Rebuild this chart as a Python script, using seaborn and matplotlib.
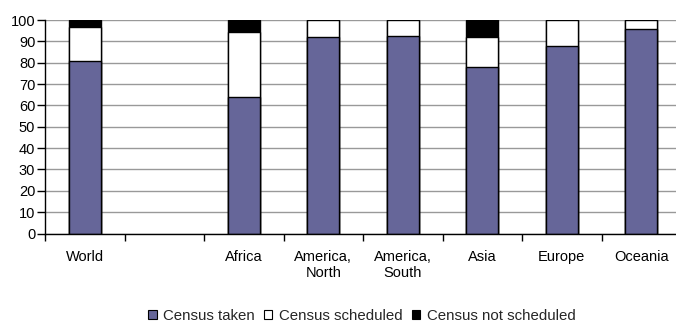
import numpy as np
import pandas as pd
import matplotlib
matplotlib.use("Agg")
import matplotlib.pyplot as plt
from matplotlib.patches import Patch
import seaborn as sns

# Share of countries by census status (percent), per region
regions = ["World", "Africa", "America,\nNorth", "America,\nSouth", "Asia", "Europe", "Oceania"]
taken = [81, 64, 92, 92.5, 78, 88, 95.6]
scheduled = [15.5, 30.5, 8, 7.5, 14, 12, 4.4]
not_scheduled = [3.5, 5.5, 0, 0, 8, 0, 0]

# Category order on the axis, with a spacer slot after "World"
order = ["World", " ", "Africa", "America,\nNorth", "America,\nSouth", "Asia", "Europe", "Oceania"]

series_labels = ["Census taken", "Census scheduled", "Census not scheduled"]
colors = ["#666699", "#ffffff", "#000000"]

df = pd.DataFrame({
    "region": regions,
    "taken": taken,
    "scheduled": scheduled,
    "not_scheduled": not_scheduled,
})
df["top1"] = df["taken"]
df["top2"] = df["taken"] + df["scheduled"]
df["top3"] = df["top2"] + df["not_scheduled"]

sns.set_theme(style="white")
plt.rcParams["font.family"] = ["Liberation Sans", "DejaVu Sans"]
plt.rcParams["font.size"] = 10.5

fig = plt.figure(figsize=(6.76, 3.24), dpi=100)
ax = fig.add_axes([45 / 676, 1 - 233.5 / 324, 636 / 676, 213.5 / 324])

# Stacked bars drawn back to front as cumulative totals
for col, color in zip(["top3", "top2", "top1"], colors[::-1]):
    sns.barplot(data=df, x="region", y=col, order=order, color=color,
                width=0.4, edgecolor="black", linewidth=1.0,
                saturation=1, errorbar=None, ax=ax, zorder=3)

ax.set_ylim(0, 100)
ax.set_xlim(-0.5, len(order) - 0.5)
ax.set_yticks(np.arange(0, 101, 10))
ax.set_xlabel("")
ax.set_ylabel("")

# Category tick marks at slot boundaries, labels centered in slots
ax.set_xticks(np.arange(-0.5, len(order) - 0.5 + 0.01, 1.0))
ax.set_xticklabels([])
ax.set_xticks(np.arange(len(order)), minor=True)
ax.set_xticklabels(order, minor=True, fontsize=10.5, color="black", linespacing=1.15)
ax.tick_params(axis="x", which="major", direction="out", length=5, width=1,
               color="black", bottom=True)
ax.tick_params(axis="x", which="minor", length=0, pad=12)
ax.tick_params(axis="y", direction="out", length=6, width=1, color="black",
               left=True, pad=1, labelsize=10.5, labelcolor="black")

ax.grid(axis="y", color="#999999", linewidth=1.0, zorder=0)
ax.grid(axis="x", visible=False)
ax.set_axisbelow(True)
for side in ["top", "right"]:
    ax.spines[side].set_visible(False)
for side in ["left", "bottom"]:
    ax.spines[side].set_color("black")
    ax.spines[side].set_linewidth(1.0)
    ax.spines[side].set_zorder(5)

handles = [Patch(facecolor=c, edgecolor="black", linewidth=0.8) for c in colors]
fig.legend(handles, series_labels, loc="center", bbox_to_anchor=(362 / 676, 8 / 324),
           ncol=3, frameon=False, fontsize=10.8, handlelength=0.55, handleheight=0.55,
           handletextpad=0.45, columnspacing=0.6, borderaxespad=0, borderpad=0)

fig.savefig("out.png", dpi=100)
